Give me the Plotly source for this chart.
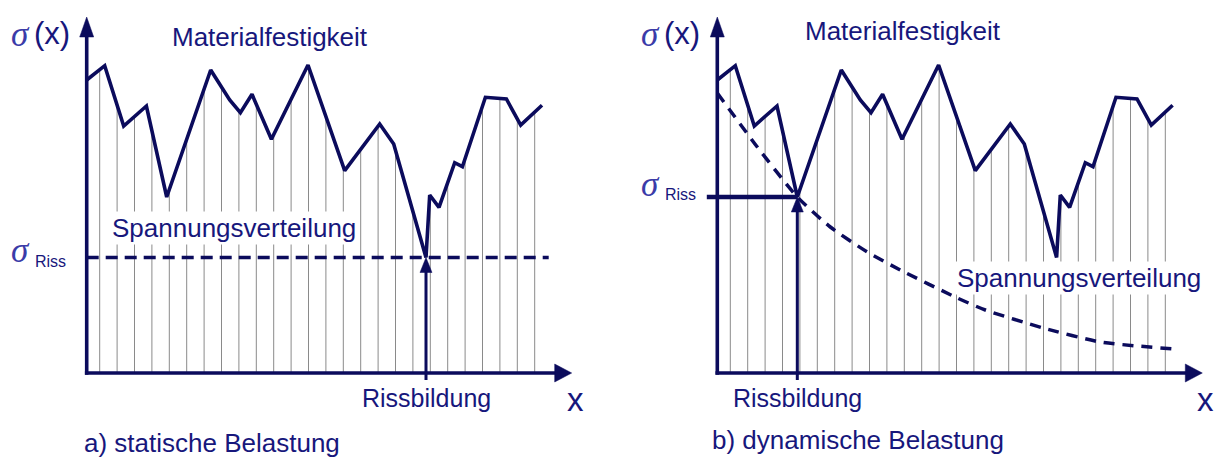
import numpy as np
import plotly.graph_objects as go

# ---------------- data (units: px right of the y-axis / px above the x-axis) -------------
# Materialfestigkeit (same material in both panels)
strength_x = [0, 18, 37, 59.7, 80, 124, 143, 153.7, 165.3, 184.7, 221.3, 258, 293, 307,
              339.3, 343, 352.3, 368, 375.7, 398.7, 419.7, 434, 455.3]
strength_y = [293, 307.3, 247, 267, 176, 303, 273, 260.3, 278.7, 233.7, 308, 202.3, 249, 229,
              115.5, 178, 165.7, 210.3, 206.3, 275.7, 274, 248, 267.7]

# positions of the thin vertical hatch lines
hatch_x = [13, 30.4, 47.8, 65.2, 82.6, 100, 117.4, 134.8, 152.2, 169.6, 187, 204.4, 221.8,
           239.2, 256.6, 274, 291.4, 308.8, 326.2, 343.6, 361, 378.4, 395.8, 413.2, 430.6, 448]

# a) static load: constant stress
static_x = [0, 462]
static_y = [115.5, 115.5]
crack_a = (339.3, 115.5)

# b) dynamic load: decaying stress distribution
dyn_x = [0, 40, 80, 113, 150, 183, 240, 268, 326, 383, 456]
dyn_y = [280, 226, 176, 146, 121, 103, 75, 63, 45, 31, 24]
crack_b = (80, 176)

labels = dict(
    strength="Materialfestigkeit",
    stress="Spannungsverteilung",
    crack="Rissbildung",
    cap_a="a) statische Belastung",
    cap_b="b) dynamische Belastung",
)

NAVY = "#0b0b5c"
TEXT = "#17177c"
SIGMA = "#3b3ba8"
GRID = "#8a8a8a"
SANS = "Arial, Liberation Sans, sans-serif"
SERIF = "Liberation Serif, Times New Roman, serif"

AX_LEN_X = 485
AX_LEN_Y = 356

fig = go.Figure()
shapes = []
annotations = []


def panel(xa, stress_x, stress_y, dash, crack, horiz_to_axis):
    # hatch lines up to the strength curve
    tops = np.interp(hatch_x, strength_x, strength_y)
    hx, hy = [], []
    for gx, t in zip(hatch_x, tops):
        hx += [gx, gx, None]
        hy += [0, t, None]
    fig.add_trace(go.Scatter(x=hx, y=hy, xaxis=xa, yaxis="y", mode="lines",
                             line=dict(color=GRID, width=1), hoverinfo="skip", showlegend=False))
    # stress distribution (dashed)
    fig.add_trace(go.Scatter(x=stress_x, y=stress_y, xaxis=xa, yaxis="y", mode="lines",
                             line=dict(color=NAVY, width=3.5, dash=dash, shape="spline", smoothing=0.6),
                             hoverinfo="skip", showlegend=False))
    # material strength
    fig.add_trace(go.Scatter(x=strength_x, y=strength_y, xaxis=xa, yaxis="y", mode="lines",
                             line=dict(color=NAVY, width=3.6), hoverinfo="skip", showlegend=False))
    cx, cy = crack
    # crack arrow
    fig.add_trace(go.Scatter(x=[cx, cx], y=[-7, cy - 12], xaxis=xa, yaxis="y", mode="lines",
                             line=dict(color=NAVY, width=3), hoverinfo="skip", showlegend=False))
    if horiz_to_axis:
        fig.add_trace(go.Scatter(x=[-10.5, cx], y=[cy, cy], xaxis=xa, yaxis="y", mode="lines",
                                 line=dict(color=NAVY, width=4.5), hoverinfo="skip", showlegend=False))
    xr = xa
    shapes.append(dict(type="path", xref=xr, yref="y",
                       path=f"M {cx},{cy} L {cx-6},{cy-15} L {cx+6},{cy-15} Z",
                       fillcolor=NAVY, line=dict(color=NAVY, width=0.5)))
    # axes
    shapes.append(dict(type="line", xref=xr, yref="y", x0=0, y0=-1.8, x1=0, y1=AX_LEN_Y - 12,
                       line=dict(color=NAVY, width=3.6)))
    shapes.append(dict(type="line", xref=xr, yref="y", x0=-1.8, y0=0, x1=AX_LEN_X - 12, y1=0,
                       line=dict(color=NAVY, width=3.6)))
    shapes.append(dict(type="path", xref=xr, yref="y",
                       path=f"M 0,{AX_LEN_Y} L -7,{AX_LEN_Y-20} L 7,{AX_LEN_Y-20} Z",
                       fillcolor=NAVY, line=dict(color=NAVY, width=0.5)))
    shapes.append(dict(type="path", xref=xr, yref="y",
                       path=f"M {AX_LEN_X},0 L {AX_LEN_X-17},-9 L {AX_LEN_X-17},9 Z",
                       fillcolor=NAVY, line=dict(color=NAVY, width=0.5)))


panel("x", static_x, static_y, "12px,7px", crack_a, False)
panel("x2", dyn_x, dyn_y, "11px,8px", crack_b, True)


def txt(xa, x, y, text, size, color=TEXT, family=SANS, xanchor="center", bg=None, italic=False):
    d = dict(xref=xa, yref="y", x=x, y=y, text=text, showarrow=False, xanchor=xanchor,
             yanchor="middle", font=dict(size=size, color=color, family=family))
    if italic:
        d["font"]["style"] = "italic"
    if bg:
        d["bgcolor"] = bg
        d["borderpad"] = 1
    annotations.append(d)


# panel a
txt("x", -66.2, 339, "σ", 35, SIGMA, SERIF, italic=True)
txt("x", -55, 339.5, "(x)", 31, TEXT, SANS, xanchor="left")
txt("x", 183.3, 336, labels["strength"], 26)
txt("x", 23.3, 145, labels["stress"], 26, xanchor="left", bg="white")
txt("x", -66.2, 123, "σ", 35, SIGMA, SERIF, italic=True)
txt("x", -54, 112, "Riss", 16, TEXT, SANS, xanchor="left")
txt("x", crack_a[0], -25, labels["crack"], 25)
txt("x", 488.3, -26, "x", 33)
txt("x", -5, -70, labels["cap_a"], 26, xanchor="left")

# panel b
txt("x2", -66.5, 339, "σ", 35, SIGMA, SERIF, italic=True)
txt("x2", -55, 339.5, "(x)", 31, TEXT, SANS, xanchor="left")
txt("x2", 185.7, 342, labels["strength"], 26)
txt("x2", 237.7, 95, labels["stress"], 26, xanchor="left", bg="white")
txt("x2", -67, 189, "σ", 35, SIGMA, SERIF, italic=True)
txt("x2", -54, 179, "Riss", 16, TEXT, SANS, xanchor="left")
txt("x2", crack_b[0], -25, labels["crack"], 25)
txt("x2", 487.7, -26, "x", 33)
txt("x2", -7.3, -67, labels["cap_b"], 26, xanchor="left")

fig.update_layout(
    width=1215, height=457, autosize=False,
    margin=dict(l=0, r=0, t=0, b=0),
    paper_bgcolor="white", plot_bgcolor="white",
    showlegend=False,
    xaxis=dict(domain=[0, 0.5], range=[-86.7, 520.8], visible=False, fixedrange=True),
    xaxis2=dict(domain=[0.5, 1], range=[-109.8, 497.7], visible=False, anchor="y", fixedrange=True),
    yaxis=dict(domain=[0, 1], range=[-84, 373], visible=False, fixedrange=True),
    shapes=shapes,
    annotations=annotations,
)

fig.write_html(
    "out.html",
    config={"displayModeBar": False},
    post_script="document.body.style.margin='0';document.body.style.overflow='hidden';",
)
